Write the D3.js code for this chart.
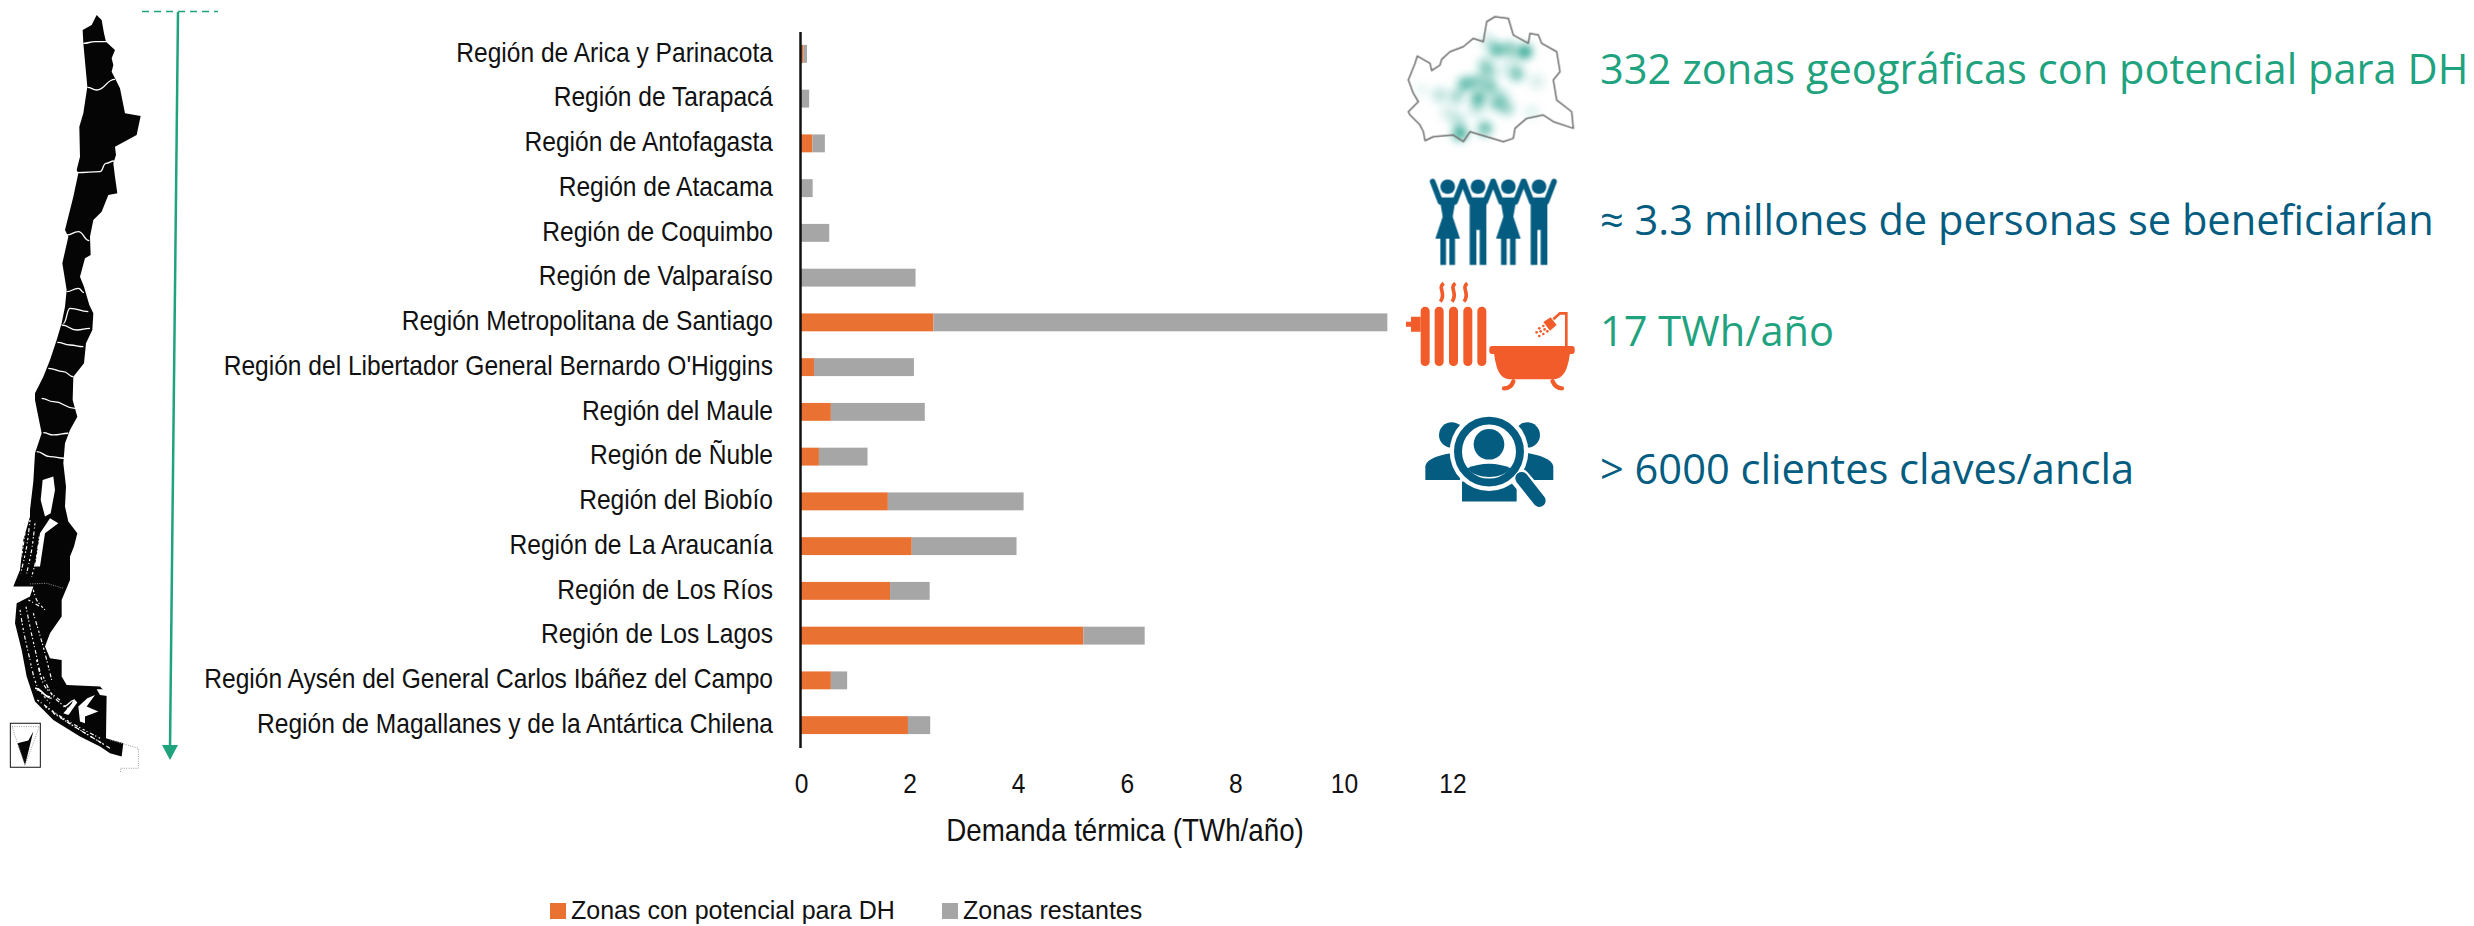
<!DOCTYPE html>
<html lang="es"><head><meta charset="UTF-8">
<script src="https://d3js.org/d3.v7.min.js"></script>
<style>
  html, body { margin: 0; padding: 0; background: #fff; }
  svg { display: block; }
</style>
</head>
<body>
<div id="chart"></div>
<script>
// values (TWh/año)
const regiones = [
  "Región de Arica y Parinacota", "Región de Tarapacá", "Región de Antofagasta",
  "Región de Atacama", "Región de Coquimbo", "Región de Valparaíso",
  "Región Metropolitana de Santiago", "Región del Libertador General Bernardo O'Higgins",
  "Región del Maule", "Región de Ñuble", "Región del Biobío", "Región de La Araucanía",
  "Región de Los Ríos", "Región de Los Lagos",
  "Región Aysén del General Carlos Ibáñez del Campo", "Región de Magallanes y de la Antártica Chilena"
];
const zonasPotencial = [0.04, 0, 0.21, 0, 0, 0, 2.44, 0.24, 0.55, 0.33, 1.60, 2.04, 1.64, 5.20, 0.55, 1.97];
const zonasRestantes = [0.07, 0.15, 0.23, 0.215, 0.52, 2.11, 8.36, 1.84, 1.73, 0.895, 2.50, 1.93, 0.73, 1.13, 0.30, 0.41];
const xTicks = [0, 2, 4, 6, 8, 10, 12];
const serieNombres = ["Zonas con potencial para DH", "Zonas restantes"];
const serieColores = ["#E97132", "#A6A6A6"];

const datosDH = [
  { texto: "332 zonas geográficas con potencial para DH", y: 69, color: "#1FA37F" },
  { texto: "≈ 3.3 millones de personas se beneficiarían", y: 220, color: "#045D81" },
  { texto: "17 TWh/año", y: 331, color: "#1FA37F" },
  { texto: "> 6000 clientes claves/ancla", y: 469, color: "#045D81" }
];

const width = 2474, height = 926;
const labelFont = "'Liberation Sans', sans-serif";
const bigFont = "'Open Sans', sans-serif";
const narrow = 0.91; // the original labels use a condensed face

const svg = d3.select("#chart").append("svg")
  .attr("width", width).attr("height", height)
  .attr("viewBox", [0, 0, width, height]);

const x = d3.scaleLinear().domain([0, 12]).range([801, 1452.5]);
const y = d3.scaleBand().domain(regiones).range([31.5, 747.5]).paddingInner(0.6).paddingOuter(0.3);

// stacked bars
const stack = regiones.map((r, i) => [
  { r, x0: 0, x1: zonasPotencial[i], c: serieColores[0] },
  { r, x0: zonasPotencial[i], x1: zonasPotencial[i] + zonasRestantes[i], c: serieColores[1] }
]).flat().filter(d => d.x1 > d.x0);

svg.append("g").selectAll("rect").data(stack).join("rect")
  .attr("x", d => x(d.x0))
  .attr("y", d => y(d.r))
  .attr("width", d => x(d.x1) - x(d.x0))
  .attr("height", y.bandwidth())
  .attr("fill", d => d.c);

// axes
svg.append("g")
  .attr("transform", "translate(800,0)")
  .call(d3.axisLeft(y).tickSize(0).tickPadding(0))
  .call(g => g.select(".domain").attr("stroke", "#111").attr("stroke-width", 2.5))
  .call(g => g.selectAll("text")
    .attr("x", 0)
    .attr("transform", `translate(-27,-1) scale(${narrow},1)`)
    .attr("font-family", labelFont).attr("font-size", 27).attr("fill", "#111"));

svg.append("g")
  .attr("transform", "translate(0,784)")
  .call(d3.axisBottom(x).tickValues(xTicks).tickSize(0).tickPadding(0))
  .call(g => g.select(".domain").remove())
  .call(g => g.selectAll("text").attr("y", 0).attr("dy", "0.35em")
    .attr("transform", `scale(${narrow},1)`)
    .attr("font-family", labelFont).attr("font-size", 27).attr("fill", "#111"));

svg.append("text")
  .attr("transform", `translate(1125,830) scale(${narrow},1)`)
  .attr("dy", "0.35em")
  .attr("text-anchor", "middle")
  .attr("font-family", labelFont).attr("font-size", 30.5).attr("fill", "#111")
  .text("Demanda térmica (TWh/año)");

// legend
const legendX = [550, 942];
const legend = svg.append("g").selectAll("g").data(serieNombres).join("g")
  .attr("transform", (d, i) => `translate(${legendX[i]},903)`);
legend.append("rect").attr("width", 16).attr("height", 16).attr("fill", (d, i) => serieColores[i]);
legend.append("text")
  .attr("transform", "translate(21,7) scale(0.962,1)")
  .attr("dy", "0.35em")
  .attr("font-family", labelFont).attr("font-size", 26).attr("fill", "#111")
  .text(d => d);

// headline texts
svg.append("g").selectAll("text").data(datosDH).join("text")
  .attr("x", 1600).attr("y", d => d.y).attr("dy", "0.35em")
  .attr("font-family", bigFont).attr("font-size", 41.6).attr("fill", d => d.color)
  .text(d => d.texto);

// arrow next to the map
const verde = "#1FA37F";
svg.append("line").attr("x1", 142).attr("x2", 218).attr("y1", 11.5).attr("y2", 11.5)
  .attr("stroke", verde).attr("stroke-width", 1.5).attr("stroke-dasharray", "7 5");
svg.append("line").attr("x1", 178).attr("y1", 12).attr("x2", 170).attr("y2", 748)
  .attr("stroke", verde).attr("stroke-width", 2.5);
svg.append("path").attr("d", "M162,745 L178,745 L170,760 Z").attr("fill", verde);

// Chile silhouette, traced at 3x
const mapa = svg.append("g").attr("transform", "scale(0.3333)");
const chile = [[290,45],[305,60],[312,100],[318,125],[345,150],[335,175],[340,195],[335,215],[345,235],[360,265],[375,340],[422,348],[410,405],[345,440],[348,465],[340,490],[345,530],[352,580],[325,585],[305,635],[280,660],[270,710],[272,765],[255,775],[240,830],[252,860],[268,915],[280,940],[277,990],[258,1030],[252,1090],[220,1130],[218,1200],[232,1250],[210,1290],[195,1330],[190,1390],[198,1460],[195,1520],[205,1565],[232,1600],[222,1640],[210,1670],[210,1740],[185,1800],[185,1850],[150,1900],[135,1940],[150,1975],[185,1980],[185,2030],[200,2055],[300,2060],[320,2080],[318,2215],[370,2230],[365,2270],[330,2260],[300,2240],[240,2210],[160,2160],[105,2105],[80,2030],[65,1950],[45,1870],[50,1810],[90,1790],[100,1760],[40,1760],[60,1710],[70,1620],[90,1550],[90,1530],[100,1445],[105,1360],[125,1300],[115,1250],[105,1200],[105,1180],[130,1130],[150,1080],[170,1020],[185,970],[195,920],[200,870],[187,790],[205,710],[195,690],[220,590],[235,520],[230,510],[240,470],[238,380],[250,340],[262,260],[250,130],[248,90],[275,75]];
mapa.append("path").attr("d", d3.line()(chile) + "Z").attr("fill", "#050505");

// region borders in white
const cortes = [
  [[250,130],[285,125],[320,125]],
  [[262,262],[290,270],[345,238]],
  [[232,518],[300,515],[318,490],[342,483]],
  [[200,705],[235,695],[268,722]],
  [[200,875],[235,865],[252,878]],
  [[190,970],[210,925],[265,935]],
  [[185,975],[230,990],[270,985]],
  [[172,1027],[210,1035],[250,1040]],
  [[145,1105],[190,1115],[220,1130]],
  [[125,1195],[160,1205],[225,1225]],
  [[130,1298],[160,1305],[205,1300]],
  [[110,1355],[150,1370],[192,1375]],
  [[190,2120],[225,2100],[205,2140]],
  [[105,2065],[150,2090]],
  [[110,2070],[155,2095]]
];
mapa.append("g").selectAll("path").data(cortes).join("path")
  .attr("d", d3.line().curve(d3.curveBumpX))
  .attr("fill", "none").attr("stroke", "#fff").attr("stroke-width", 4);

// sea gaps: Chiloé gulf and Magallanes straits
const mares = [
  [[128,1440],[160,1430],[165,1470],[152,1540],[135,1550],[122,1500]],
  [[150,1555],[175,1570],[135,1600],[120,1700],[105,1700],[120,1600]],
  [[240,2165],[235,2120],[262,2095],[285,2085],[260,2120],[295,2135],[255,2150],[255,2170]],
  [[190,2140],[225,2100],[232,2108],[205,2145]],
  [[290,2068],[325,2068],[322,2088],[300,2085]]
];
mapa.append("g").selectAll("path").data(mares).join("path")
  .attr("d", d => d3.line()(d) + "Z").attr("fill", "#fff");

// fjord speckle along the west coast, dashed white strokes
const fiordos = [
  [[90,1560],[80,1640],[62,1720]], [[105,1570],[95,1650],[80,1720]], [[118,1610],[108,1680],[95,1730]],
  [[75,1600],[65,1670]], [[100,1770],[110,1800],[135,1830]], [[85,1800],[120,1820]],
  [[60,1830],[72,1900],[90,1980]], [[78,1820],[92,1890],[110,1970],[125,2040]],
  [[100,1840],[118,1900],[135,1960],[155,2040]], [[92,1990],[112,2060],[150,2110]],
  [[110,1980],[135,2060],[180,2100]], [[130,2030],[160,2090],[210,2130]],
  [[112,2100],[190,2155],[300,2215]], [[160,2140],[240,2190],[330,2245]],
  [[135,2120],[220,2178],[310,2232]]
];
mapa.append("g").selectAll("path").data(fiordos).join("path")
  .attr("d", d3.line().curve(d3.curveCatmullRom))
  .attr("fill", "none").attr("stroke", "#fff").attr("stroke-width", 3.5)
  .attr("stroke-dasharray", "7 6 3 9 12 5 4 8");

// dotted border in the far south + inset box
mapa.append("path").attr("d", "M330,2220 L415,2245 L415,2305 L362,2305 L362,2320")
  .attr("fill", "none").attr("stroke", "#999").attr("stroke-width", 3).attr("stroke-dasharray", "3 4");
mapa.append("path").attr("d", "M90,1752 L140,1750 L190,1765")
  .attr("fill", "none").attr("stroke", "#999").attr("stroke-width", 3).attr("stroke-dasharray", "3 4");
mapa.append("rect").attr("x", 31).attr("y", 2170).attr("width", 90).attr("height", 132)
  .attr("fill", "#fff").attr("stroke", "#111").attr("stroke-width", 3);
mapa.append("path").attr("d", "M52,2230 L75,2296 L100,2195 L85,2222 Z").attr("fill", "#050505");
mapa.append("path").attr("d", "M36,2180 L118,2180 L75,2296 Z")
  .attr("fill", "none").attr("stroke", "#999").attr("stroke-width", 3).attr("stroke-dasharray", "3 4");

// icons, traced at 3x from (1380,0)
const iconos = svg.append("g").attr("transform", "translate(1380,0) scale(0.3333)");
const defs = svg.append("defs");
defs.append("filter").attr("id", "blur").attr("x", "-50%").attr("y", "-50%").attr("width", "200%").attr("height", "200%")
  .append("feGaussianBlur").attr("stdDeviation", 13);

// city outline with heat blobs
const ciudad = [[112,168],[150,190],[155,212],[180,195],[185,178],[210,155],[250,140],[280,115],[310,125],[320,65],[345,50],[385,55],[400,105],[445,130],[450,100],[475,105],[485,130],[530,155],[540,215],[520,240],[530,300],[575,335],[580,385],[520,365],[490,345],[440,355],[405,385],[400,415],[370,425],[270,395],[250,425],[220,405],[160,410],[135,422],[130,395],[120,375],[90,345],[85,335],[115,305],[100,280],[85,240],[105,190]];
const manchas = [[350,150,.7],[388,145,.55],[435,155,.9],[325,125,.25],[400,180,.2],[315,195,.4],[325,215,.45],[410,222,.6],[255,252,.7],[290,245,.55],[330,260,.6],[295,295,.75],[350,310,.55],[380,325,.45],[230,290,.4],[180,285,.3],[240,400,.85],[315,385,.65],[235,360,.3],[290,325,.3],[470,245,.18],[205,340,.2],[370,210,.12],[365,290,.35],[455,335,.12],[125,270,.08]];
iconos.append("g").attr("filter", "url(#blur)").selectAll("circle").data(manchas).join("circle")
  .attr("cx", d => d[0]).attr("cy", d => d[1]).attr("r", 22)
  .attr("fill", "#1FA08A").attr("opacity", d => d[2]);
iconos.append("path").attr("d", d3.line()(ciudad) + "Z")
  .attr("fill", "none").attr("stroke", "#6f6f6f").attr("stroke-width", 4.5).attr("stroke-linejoin", "round");

// four people holding hands
const azul = "#045D81";
const gente = [[203, "f"], [294, "m"], [385, "f"], [477, "m"]];
const persona = iconos.append("g").attr("fill", azul).selectAll("g").data(gente).join("g");
persona.append("circle").attr("cx", d => d[0]).attr("cy", 560).attr("r", 22);
persona.append("path")
  .attr("d", d => `M${d[0] - 45},545 L${d[0] - 22},605 M${d[0] + 45},545 L${d[0] + 22},605`)
  .attr("stroke", azul).attr("stroke-width", 17).attr("stroke-linecap", "round").attr("fill", "none");
persona.append("path").attr("d", d => {
  const c = d[0];
  return d[1] === "f"
    ? `M${c - 25},592 L${c + 25},592 L${c + 15},650 L${c + 37},716 L${c + 22},716 L${c + 22},795 L${c + 5},795 L${c + 5},716 L${c - 5},716 L${c - 5},795 L${c - 22},795 L${c - 22},716 L${c - 37},716 L${c - 15},650 Z`
    : `M${c - 25},592 L${c + 25},592 L${c + 25},795 L${c + 5},795 L${c + 5},690 L${c - 5},690 L${c - 5},795 L${c - 25},795 Z`;
});

// radiator and bathtub (crop started at y = 260, so 780 in the 3x space)
const naranja = "#F25C2A";
const rad = iconos.append("g").attr("transform", "translate(0,780)").attr("fill", naranja);
rad.selectAll("rect.fin").data([122, 164, 207, 250, 292]).join("rect").attr("class", "fin")
  .attr("x", d => d).attr("y", 140).attr("width", 27).attr("height", 178).attr("rx", 13);
rad.append("path").attr("d", "M93,170 L122,170 L122,215 L93,215 L93,200 L78,200 L78,185 L93,185 Z");
rad.selectAll("path.vapor").data([185, 220, 256]).join("path").attr("class", "vapor")
  .attr("d", d => `M${d + 6},70 C${d - 14},85 ${d + 16},100 ${d - 4},125`)
  .attr("fill", "none").attr("stroke", naranja).attr("stroke-width", 11);
rad.append("rect").attr("x", 328).attr("y", 258).attr("width", 256).attr("height", 24).attr("rx", 8);
rad.append("path").attr("d", "M342,280 L570,280 C562,335 550,358 515,358 L395,358 C360,358 350,335 342,280 Z");
rad.append("path").attr("d", "M400,364 C395,380 385,385 372,385 M518,364 C525,380 535,385 546,385")
  .attr("fill", "none").attr("stroke", naranja).attr("stroke-width", 13).attr("stroke-linecap", "round");
rad.append("path").attr("d", "M559,258 L559,160 L540,160 L520,178")
  .attr("fill", "none").attr("stroke", naranja).attr("stroke-width", 8);
rad.append("path").attr("d", "M490,186 L512,172 L530,195 L510,212 Z");
rad.selectAll("circle").data([[478,205],[490,198],[470,217],[482,214],[494,208],[478,228],[490,222],[502,214]]).join("circle")
  .attr("cx", d => d[0]).attr("cy", d => d[1]).attr("r", 4);

// clients under a magnifying glass
const lupa = iconos.append("g").attr("transform", "translate(0,780)").attr("fill", azul);
lupa.append("circle").attr("cx", 215).attr("cy", 525).attr("r", 38);
lupa.append("circle").attr("cx", 442).attr("cy", 525).attr("r", 38);
lupa.append("path").attr("d", "M136,660 L136,620 C140,595 180,585 240,575 L240,660 Z");
lupa.append("path").attr("d", "M520,660 L520,620 C516,595 476,585 420,575 L420,660 Z");
lupa.append("path").attr("d", "M246,665 L410,665 L410,725 L246,725 Z");
lupa.append("circle").attr("cx", 327).attr("cy", 575).attr("r", 118).attr("fill", "#fff");
lupa.append("path").attr("d", "M420,655 L478,722").attr("stroke", "#fff").attr("stroke-width", 58).attr("stroke-linecap", "round");
lupa.append("circle").attr("cx", 327).attr("cy", 575).attr("r", 93).attr("fill", "none").attr("stroke", azul).attr("stroke-width", 24);
lupa.append("circle").attr("cx", 327).attr("cy", 553).attr("r", 46);
lupa.append("path").attr("d", "M262,625 C300,607 355,607 392,625 C370,658 290,662 262,625 Z");
lupa.append("path").attr("d", "M425,655 L478,722").attr("stroke", azul).attr("stroke-width", 38).attr("stroke-linecap", "round");
</script>
</body>
</html>
